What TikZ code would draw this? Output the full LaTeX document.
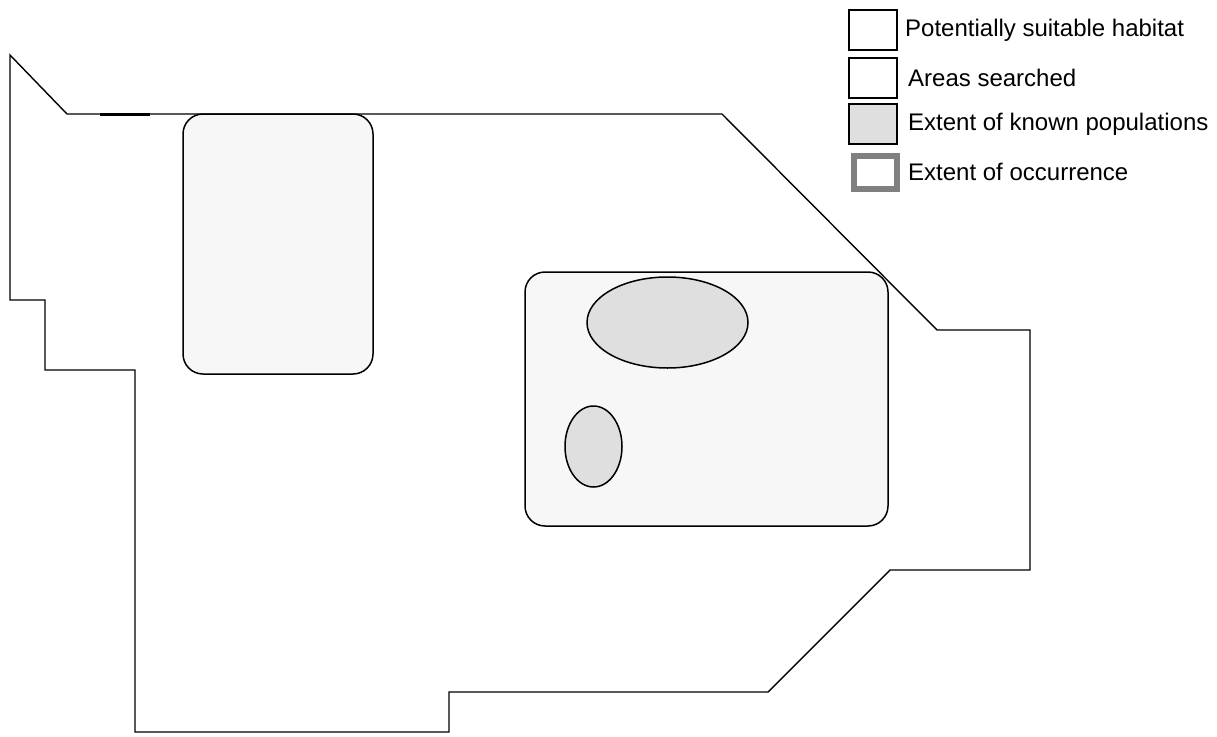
\documentclass[tikz,border=0pt]{standalone}
\usepackage{fontspec}
\setmainfont{Liberation Sans}
\usetikzlibrary{shapes.geometric}
\begin{document}
\begin{tikzpicture}[x=1pt,y=-1pt,
  outline/.style={draw=black,line width=1.4pt,line join=miter},
  searched/.style={draw=black,line width=1.5pt,fill=gray!6,rounded corners=20pt},
  known/.style={draw=black,line width=1.5pt,fill=gray!25},
  legtext/.style={anchor=west,inner sep=0pt,font=\fontsize{24}{26}\selectfont}]
\useasboundingbox (0,0) rectangle (1217,736);
% potentially suitable habitat outline
\draw[outline] (10,55) -- (67,114) -- (722,114) -- (937,330) -- (1030,330) -- (1030,570)
  -- (890,570) -- (768,692) -- (449,692) -- (449,732) -- (135,732) -- (135,370)
  -- (45,370) -- (45,300) -- (10,300) -- cycle;
\coordinate (t1) at (100,114);
\coordinate (t2) at (150,114);
\draw[line width=3pt] (t1) -- (t2);
% areas searched
\draw[searched] (183,114) rectangle (373,374);
\draw[searched] (525,272) rectangle (888,526);
% known populations
\node[known,ellipse,minimum width=161pt,minimum height=91pt,inner sep=0pt] (e1) at (667.5,322.5) {};
\node[known,ellipse,minimum width=57pt,minimum height=81pt,inner sep=0pt] (e2) at (593.5,446.5) {};
% legend
\node[draw=black,line width=1.3pt,minimum width=48pt,minimum height=40pt,inner sep=0pt] (l1) at (873,30) {};
\node[draw=black,line width=1.5pt,minimum width=48pt,minimum height=40pt,inner sep=0pt] (l2) at (873,78) {};
\node[draw=black,line width=1.5pt,fill=gray!25,minimum width=48pt,minimum height=40pt,inner sep=0pt] (l3) at (873,124) {};
\node[draw=gray,line width=6pt,minimum width=43pt,minimum height=33pt,inner sep=0pt] (l4) at (875,172.5) {};
\node[legtext] (t1l) at (905,30) {Potentially suitable habitat};
\node[legtext] (t2l) at (908,78) {Areas searched};
\node[legtext] (t3l) at (908,124) {Extent of known populations};
\node[legtext] (t4l) at (908,172) {Extent of occurrence};
\end{tikzpicture}
\end{document}
